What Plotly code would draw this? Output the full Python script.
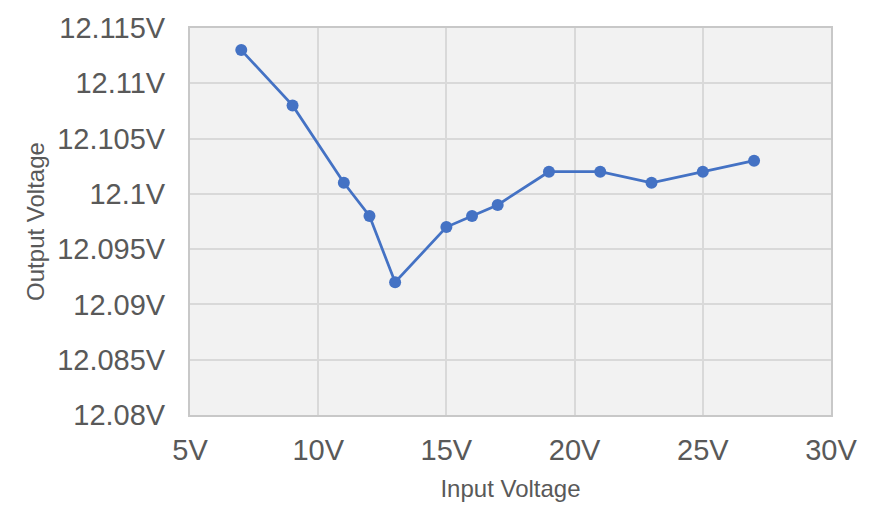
import plotly.graph_objects as go

input_v = [7, 9, 11, 12, 13, 15, 16, 17, 19, 21, 23, 25, 27]
output_v = [12.113, 12.108, 12.101, 12.098, 12.092, 12.097, 12.098, 12.099,
            12.102, 12.102, 12.101, 12.102, 12.103]

x_tickvals = [5, 10, 15, 20, 25, 30]
x_ticktext = ["5V", "10V", "15V", "20V", "25V", "30V"]
y_tickvals = [12.08, 12.085, 12.09, 12.095, 12.1, 12.105, 12.11, 12.115]
y_ticktext = ["12.08V", "12.085V", "12.09V", "12.095V", "12.1V", "12.105V", "12.11V", "12.115V"]

fig = go.Figure()
fig.add_trace(go.Scatter(
    x=input_v, y=output_v, mode="lines+markers",
    line=dict(color="#4472C4", width=2.75),
    marker=dict(color="#4472C4", size=12),
    showlegend=False,
))

font_family = "Liberation Sans, Arial, sans-serif"
fig.update_layout(
    width=869, height=512,
    margin=dict(l=190, r=37, t=22, b=97),
    paper_bgcolor="white",
    plot_bgcolor="#f2f2f2",
    font=dict(family=font_family, color="#595959"),
    xaxis=dict(
        range=[5, 30], tickvals=x_tickvals, ticktext=x_ticktext,
        showgrid=True, gridcolor="#d9d9d9", gridwidth=1.5,
        showline=True, linecolor="#c8c8c8", linewidth=2, mirror=True,
        zeroline=False, ticks="", ticklabelstandoff=8,
        tickfont=dict(size=29, color="#595959"),
        title=dict(text="Input Voltage", font=dict(size=24, color="#595959"), standoff=15),
    ),
    yaxis=dict(
        range=[12.08, 12.115], tickvals=y_tickvals, ticktext=y_ticktext,
        showgrid=True, gridcolor="#d9d9d9", gridwidth=1.5,
        showline=True, linecolor="#c8c8c8", linewidth=2, mirror=True,
        zeroline=False, ticks="", ticklabelstandoff=17,
        tickfont=dict(size=29, color="#595959"),
        title=dict(text="Output Voltage", font=dict(size=24, color="#595959"), standoff=6),
    ),
)

fig.write_html("out.html")
